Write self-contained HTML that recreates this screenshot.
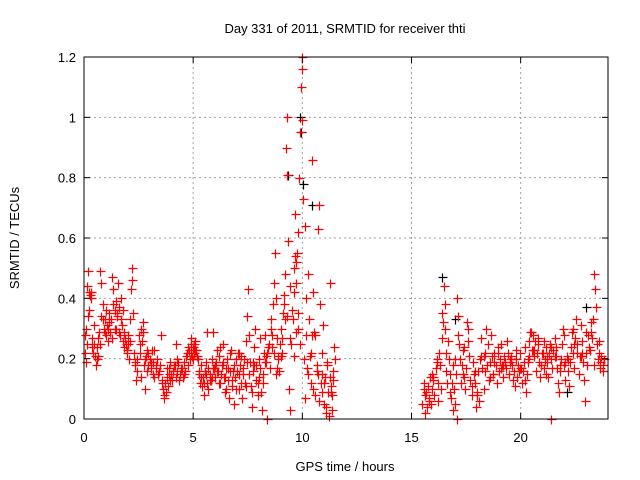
<!DOCTYPE html>
<html><head><meta charset="utf-8"><style>
body{margin:0;background:#fff}
svg{display:block;font-family:"Liberation Sans",sans-serif}
</style></head><body>
<svg id="chart" width="640" height="480" viewBox="0 0 640 480">
<rect width="640" height="480" fill="#fff"/>
<g id="grid"></g>
<g id="marks"></g>
<g id="axes"></g>
<text x="345" y="33" font-size="13" text-anchor="middle">Day 331 of 2011, SRMTID for receiver thti</text>
<text x="345" y="471" font-size="13" text-anchor="middle">GPS time / hours</text>
<text transform="translate(19,238) rotate(-90)" font-size="13" text-anchor="middle">SRMTID / TECUs</text>
</svg>
<script>
const xTicks=[0,5,10,15,20];
const yTicks=[0,0.2,0.4,0.6,0.8,1,1.2];
const yTickLabels=["0","0.2","0.4","0.6","0.8","1","1.2"];
// black series [hour, value]
const blackPts=[[9.35,0.81],[9.9,1.0],[9.92,0.95],[10.05,0.78],[10.45,0.71],[16.4,0.47],[17.0,0.33],[23.0,0.37],[22.1,0.09]];
// red series, morning segment [hour, value]
const redMorning=[[0.05,0.22],[0.08,0.30],[0.1,0.19],[0.15,0.44],[0.2,0.49],[0.22,0.42],[0.25,0.36],[0.3,0.40],[0.35,0.27],[0.4,0.22],[0.45,0.25],[0.5,0.21],[0.55,0.18],[0.6,0.20],[0.65,0.27],[0.7,0.29],[0.75,0.49],[0.8,0.45],[0.85,0.38],[0.9,0.30],[0.95,0.33],[1.0,0.28],[1.05,0.31],[1.1,0.26],[1.15,0.35],[1.2,0.29],[1.25,0.33],[1.3,0.47],[1.35,0.43],[1.4,0.30],[1.45,0.39],[1.5,0.34],[1.55,0.45],[1.6,0.37],[1.65,0.28],[1.7,0.33],[1.75,0.31],[1.8,0.36],[1.85,0.24],[1.9,0.27],[1.95,0.22],[2.0,0.25],[2.05,0.20],[2.1,0.26],[2.15,0.43],[2.2,0.50],[2.25,0.35],[2.3,0.22],[2.35,0.18],[2.4,0.13],[2.45,0.16],[2.5,0.28],[2.55,0.22],[2.6,0.30],[2.65,0.26],[2.7,0.32],[2.75,0.18],[2.8,0.10],[2.85,0.21],[2.9,0.16],[2.95,0.22],[3.0,0.20],[3.05,0.17],[3.1,0.23],[3.15,0.19],[3.2,0.14],[3.3,0.17],[3.35,0.20],[3.4,0.15],[3.5,0.18],[3.55,0.13],[3.6,0.10],[3.65,0.07],[3.7,0.12],[3.75,0.09],[3.8,0.14],[3.85,0.11],[3.9,0.17],[3.95,0.19],[4.0,0.15],[4.05,0.13],[4.1,0.18],[4.2,0.14],[4.25,0.16],[4.3,0.19],[4.35,0.13],[4.4,0.15],[4.5,0.17],[4.55,0.14],[4.6,0.19],[4.7,0.22],[4.75,0.18],[4.8,0.23],[4.85,0.20],[4.9,0.25],[4.95,0.21],[5.0,0.24],
[0.12,0.25],[0.32,0.42],[0.58,0.24],[0.88,0.33],[1.08,0.30],[1.42,0.36],[1.62,0.29],[1.92,0.25],[2.32,0.19],[2.62,0.14],[2.92,0.18],[3.22,0.23],[3.52,0.28],[3.92,0.13],[4.22,0.25],[4.62,0.16],[4.92,0.27],
[0.03,0.28],[0.18,0.34],[0.27,0.41],[0.38,0.24],[0.48,0.31],[0.62,0.21],[0.72,0.25],[0.78,0.34],[0.98,0.29],[1.02,0.36],[1.13,0.32],[1.28,0.27],[1.33,0.38],[1.48,0.30],[1.53,0.35],[1.68,0.40],[1.78,0.26],[1.83,0.29],[1.97,0.23],[2.03,0.28],[2.12,0.33],[2.18,0.46],[2.42,0.20],[2.58,0.25],[2.68,0.29],[2.78,0.20],[2.88,0.23],[3.08,0.19],[3.18,0.15],[3.28,0.18],[3.45,0.16],[3.58,0.12],[3.68,0.08],[3.78,0.17],[3.88,0.15],[4.08,0.16],[4.18,0.18],[4.28,0.20],[4.45,0.17],[4.58,0.15],[4.68,0.21],[4.78,0.24],[4.88,0.22],[4.98,0.20]];
// red series, midday segment
const redMidday=[[5.05,0.22],[5.1,0.26],[5.15,0.23],[5.2,0.20],[5.25,0.15],[5.3,0.12],[5.35,0.18],[5.4,0.11],[5.45,0.14],[5.5,0.08],[5.55,0.16],[5.6,0.19],[5.65,0.12],[5.7,0.10],[5.75,0.15],[5.8,0.13],[5.85,0.20],[5.9,0.29],[5.95,0.17],[6.0,0.14],[6.05,0.19],[6.1,0.23],[6.15,0.16],[6.2,0.21],[6.25,0.12],[6.3,0.18],[6.35,0.25],[6.4,0.14],[6.45,0.09],[6.5,0.17],[6.55,0.20],[6.6,0.13],[6.65,0.07],[6.7,0.16],[6.75,0.23],[6.8,0.11],[6.85,0.05],[6.9,0.14],[6.95,0.20],[7.0,0.16],[7.05,0.22],[7.1,0.10],[7.15,0.18],[7.2,0.12],[7.25,0.07],[7.3,0.15],[7.35,0.20],[7.4,0.26],[7.45,0.34],[7.5,0.43],[7.55,0.28],[7.6,0.19],[7.65,0.11],[7.7,0.04],[7.75,0.16],[7.8,0.24],[7.85,0.30],[7.9,0.18],[7.95,0.12],[8.0,0.20],[8.05,0.27],[8.1,0.09],[8.15,0.03],[8.2,0.15],[8.25,0.22],[8.3,0.28],[8.35,0.19],[8.4,0.0],[8.45,0.24],[8.5,0.17],[8.55,0.33],[8.6,0.28],[8.65,0.38],[8.7,0.45],[8.75,0.55],[8.8,0.40],[8.85,0.27],[8.9,0.20],[8.95,0.16],
[5.03,0.25],[5.08,0.23],[5.18,0.21],[5.28,0.16],[5.38,0.14],[5.48,0.12],[5.58,0.15],[5.68,0.17],[5.78,0.13],[5.88,0.14],[5.98,0.18],[6.08,0.16],[6.18,0.12],[6.28,0.15],[6.38,0.19],[6.48,0.14],[6.58,0.17],[6.68,0.22],[6.78,0.13],[6.88,0.18],[6.98,0.10],[7.08,0.15],[7.18,0.21],[7.28,0.17],[7.38,0.12],[7.48,0.19],[7.58,0.15],[7.68,0.09],[7.78,0.18],[7.88,0.13],[7.98,0.08],[8.08,0.17],[8.18,0.12],[8.28,0.19],[8.38,0.22],[8.48,0.25],[8.58,0.30],[8.68,0.22],[8.78,0.15],[8.88,0.21],[8.98,0.25],
[5.62,0.29],[5.92,0.17],[6.22,0.24],[6.52,0.10],[6.82,0.16],[7.12,0.22],[7.42,0.11],[7.72,0.19],[8.02,0.14],[8.32,0.21],[8.62,0.24],[8.82,0.17]];
// red series, storm segment
const redStorm=[[9.0,0.30],[9.05,0.22],[9.1,0.35],[9.15,0.41],[9.2,0.48],[9.25,0.90],[9.3,1.0],[9.32,0.81],[9.35,0.59],[9.4,0.10],[9.45,0.03],[9.5,0.25],[9.55,0.33],[9.6,0.42],[9.65,0.68],[9.7,0.52],[9.75,0.55],[9.8,0.62],[9.85,0.80],[9.9,0.95],[9.95,1.10],[9.97,1.16],[10.0,1.2],[9.98,0.99],[10.05,0.73],[10.1,0.64],[10.15,0.40],[10.2,0.17],[10.25,0.48],[10.3,0.33],[10.35,0.21],[10.4,0.12],[10.45,0.86],[10.5,0.42],[10.55,0.29],[10.6,0.08],[10.65,0.16],[10.7,0.63],[10.75,0.71],[10.8,0.38],[10.85,0.12],[10.9,0.22],[10.95,0.31],[11.0,0.05],[11.05,0.14],[11.1,0.02],[11.15,0.19],[11.2,0.01],[11.25,0.45],[11.3,0.09],[11.35,0.03],[11.4,0.13],[11.45,0.24],[11.5,0.20],
[9.08,0.27],[9.18,0.38],[9.28,0.34],[9.42,0.44],[9.52,0.36],[9.62,0.50],[9.68,0.54],[9.72,0.45],[9.78,0.30],[9.82,0.35],[9.88,0.25],[10.08,0.20],[10.18,0.28],[10.28,0.15],[10.38,0.22],[10.48,0.10],[10.58,0.28],[10.68,0.18],[10.78,0.06],[10.88,0.15],[10.98,0.12],[11.08,0.04],[11.18,0.09],[11.28,0.14],[11.38,0.08],[11.42,0.16],
[9.02,0.21],[9.22,0.33],[9.42,0.27],[9.62,0.21],[9.72,0.29],[10.12,0.07],[10.42,0.28],[10.72,0.15],[10.92,0.09],[11.12,0.18],[11.32,0.11]];
// red series, evening segment
const redEvening=[[15.5,0.05],[15.55,0.12],[15.6,0.02],[15.65,0.09],[15.7,0.04],[15.75,0.11],[15.8,0.07],[15.85,0.14],[15.9,0.05],[15.95,0.10],[16.0,0.13],[16.05,0.08],[16.1,0.17],[16.15,0.20],[16.2,0.12],[16.25,0.22],[16.3,0.18],[16.35,0.10],[16.4,0.27],[16.45,0.32],[16.5,0.44],[16.52,0.38],[16.55,0.30],[16.6,0.22],[16.65,0.26],[16.7,0.20],[16.75,0.15],[16.8,0.07],[16.85,0.12],[16.9,0.03],[16.95,0.10],[17.0,0.05],[17.05,0.15],[17.1,0.40],[17.12,0.34],[17.15,0.28],[17.2,0.20],[17.25,0.12],[17.3,0.18],[17.35,0.23],[17.4,0.14],[17.45,0.10],[17.5,0.17],[17.55,0.32],[17.6,0.30],[17.65,0.21],[17.7,0.13],[17.75,0.08],[17.8,0.19],[17.85,0.15],[17.9,0.12],[17.95,0.04],[18.0,0.09],[18.05,0.16],[18.1,0.06],[18.15,0.20],[18.2,0.27],[18.25,0.17],[18.3,0.10],[18.35,0.22],[18.4,0.30],[18.45,0.18],[18.5,0.25],[18.55,0.13],[18.6,0.19],[18.65,0.28],[18.7,0.21],[18.75,0.15],[18.8,0.22],[18.85,0.18],[18.9,0.12],[18.95,0.24],[19.0,0.16],[19.05,0.20],[19.1,0.25],[19.15,0.18],[19.2,0.14],[19.25,0.21],[19.3,0.19],[19.35,0.17],[19.4,0.22],[19.45,0.15],[19.5,0.19],[19.55,0.21],[19.6,0.18],[19.65,0.13],[19.7,0.16],[19.75,0.11],[19.8,0.20],[19.85,0.14],[19.9,0.18],[19.95,0.22],
[15.62,0.08],[15.92,0.15],[16.22,0.06],[16.62,0.12],[16.92,0.18],[17.42,0.24],[17.92,0.16],[18.32,0.21],[18.72,0.15],[19.12,0.17],[19.52,0.20],[19.92,0.16],
[15.58,0.10],[15.78,0.06],[15.98,0.14],[16.18,0.19],[16.38,0.35],[16.58,0.16],[16.78,0.09],[16.98,0.20],[17.18,0.25],[17.38,0.15],[17.58,0.26],[17.78,0.11],[17.98,0.08],[18.18,0.21],[18.38,0.16],[18.58,0.14],[18.78,0.19],[18.98,0.22],[19.18,0.18],[19.38,0.26],[19.58,0.20],[19.78,0.23],[19.98,0.17],[17.1,0.0]];
// red series, night segment
const redNight=[[20.0,0.17],[20.05,0.12],[20.1,0.16],[20.15,0.19],[20.2,0.13],[20.25,0.09],[20.3,0.15],[20.35,0.20],[20.4,0.26],[20.45,0.29],[20.5,0.23],[20.55,0.28],[20.6,0.21],[20.65,0.26],[20.7,0.16],[20.75,0.22],[20.8,0.25],[20.85,0.19],[20.9,0.14],[20.95,0.18],[21.0,0.22],[21.05,0.17],[21.1,0.20],[21.15,0.24],[21.2,0.19],[21.25,0.14],[21.3,0.22],[21.35,0.25],[21.4,0.20],[21.45,0.17],[21.5,0.23],[21.55,0.27],[21.6,0.21],[21.65,0.17],[21.7,0.12],[21.75,0.09],[21.8,0.16],[21.85,0.20],[21.9,0.25],[21.95,0.30],[22.0,0.18],[22.05,0.13],[22.1,0.21],[22.15,0.16],[22.2,0.11],[22.25,0.19],[22.3,0.24],[22.35,0.29],[22.4,0.22],[22.45,0.17],[22.5,0.27],[22.55,0.33],[22.6,0.22],[22.65,0.15],[22.7,0.21],[22.75,0.31],[22.8,0.26],[22.85,0.19],[22.9,0.13],[22.95,0.06],[23.0,0.22],[23.05,0.18],[23.1,0.28],[23.15,0.24],[23.2,0.32],[23.25,0.27],[23.3,0.33],[23.35,0.48],[23.4,0.43],[23.45,0.37],[23.5,0.25],[23.55,0.20],[23.6,0.26],[23.65,0.17],[23.7,0.21],[23.75,0.16],[23.8,0.20],
[20.32,0.19],[20.62,0.23],[20.92,0.18],[21.22,0.21],[21.62,0.24],[22.02,0.19],[22.42,0.25],[22.82,0.22],[23.22,0.29],[23.62,0.19],
[20.18,0.24],[20.38,0.21],[20.48,0.29],[20.58,0.23],[20.78,0.27],[20.98,0.22],[21.08,0.26],[21.18,0.15],[21.38,0.24],[21.58,0.21],[21.78,0.18],[21.98,0.28],[22.18,0.20],[22.38,0.30],[22.58,0.25],[22.78,0.21],[22.98,0.29],[23.18,0.23],[23.38,0.18],[23.58,0.22],[23.78,0.18],[21.4,0.0]];
const L=84,R=608,T=57,B=419,XMAX=24,YMAX=1.2;
const xs=h=>L+(h/XMAX)*(R-L);
const ys=v=>B-(v/YMAX)*(B-T);
const NS="http://www.w3.org/2000/svg";
const grid=document.getElementById('grid'),axes=document.getElementById('axes'),marks=document.getElementById('marks');
function mk(tag,attrs,parent){const e=document.createElementNS(NS,tag);for(const k in attrs)e.setAttribute(k,attrs[k]);parent.appendChild(e);return e;}
xTicks.forEach(t=>{const x=xs(t);
 if(t>0){const g=mk('line',{x1:x,x2:x,y1:T,y2:B,stroke:'#a0a0a0','stroke-dasharray':'2,3'},grid);
 
 }
 mk('line',{x1:x,x2:x,y1:B,y2:B-6,stroke:'#000'},axes);mk('line',{x1:x,x2:x,y1:T,y2:T+6,stroke:'#000'},axes);
 const lb=mk('text',{x:x,y:B+23,'font-size':13,'text-anchor':'middle'},axes);lb.textContent=String(t);
 
 });
yTicks.forEach((t,i)=>{const y=ys(t);
 if(t>0&&t<YMAX){const g=mk('line',{x1:L,x2:R,y1:y,y2:y,stroke:'#a0a0a0','stroke-dasharray':'2,3'},grid);
 
 }
 mk('line',{x1:L,x2:L+6,y1:y,y2:y,stroke:'#000'},axes);mk('line',{x1:R,x2:R-6,y1:y,y2:y,stroke:'#000'},axes);
 const lb=mk('text',{x:L-8,y:y+5,'font-size':13,'text-anchor':'end'},axes);lb.textContent=yTickLabels[i];
 
 });
const bd=mk('rect',{x:L,y:T,width:R-L,height:B-T,fill:'none',stroke:'#000'},axes);


function plus(h,v,color,name){const x=Math.round(xs(h))+0.5,y=Math.round(ys(v))+0.5;
 const p=mk('path',{d:`M${x-4} ${y}H${x+5}M${x} ${y-4}V${y+5}`,stroke:color,'stroke-width':1.2,fill:'none'},marks);
 
 }
blackPts.forEach(p=>plus(p[0],p[1],'#000','black-point'));
[redMorning,redMidday,redStorm,redEvening,redNight].forEach(seg=>seg.forEach(p=>plus(p[0],p[1],'#f00','red-point')));
</script>
</body></html>
